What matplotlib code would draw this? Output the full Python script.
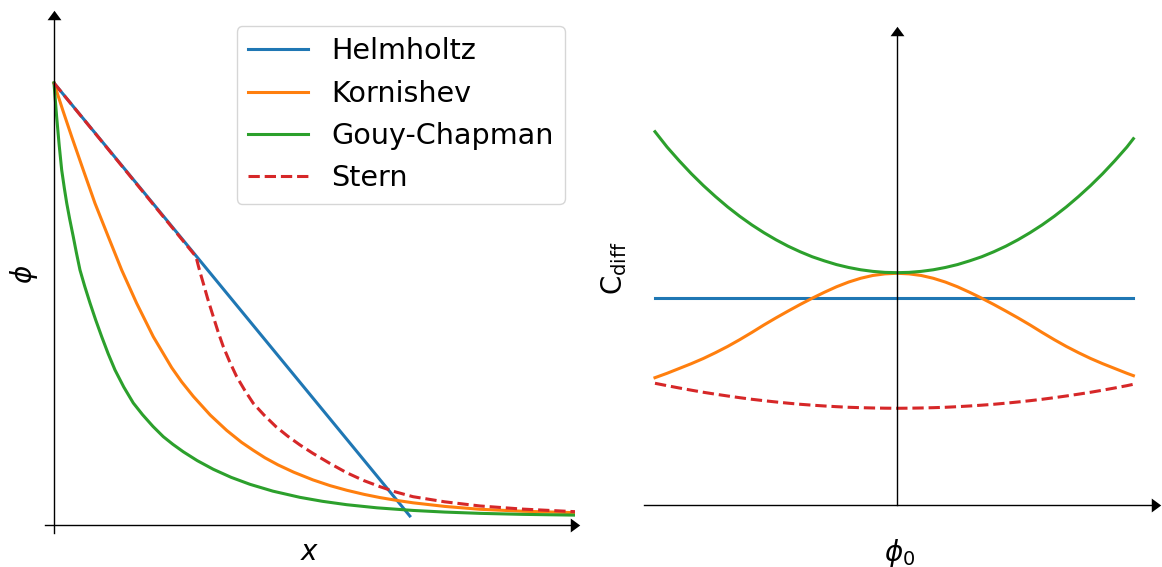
import matplotlib
matplotlib.use("Agg")
import matplotlib.pyplot as plt

# ===== Data =====
# Left panel: potential profile phi(x) away from the electrode
HELM_X = [0.0, 0.683]
HELM_PHI = [1.0, 0.0204]

KORN_X = [0.0, 0.017, 0.034, 0.0562, 0.0787, 0.1042, 0.1299, 0.1587, 0.1906, 0.2259,
          0.245, 0.2674, 0.3, 0.3315, 0.36, 0.3825, 0.405, 0.43, 0.46, 0.4971,
          0.53, 0.5618, 0.595, 0.6257, 0.66, 0.6891, 0.75, 0.8177, 0.9, 1.0]
KORN_PHI = [1.0, 0.938, 0.8785, 0.8032, 0.7278, 0.6523, 0.5769, 0.5016, 0.426, 0.356,
            0.324, 0.291, 0.2486, 0.214, 0.187, 0.169, 0.152, 0.136, 0.1195, 0.102,
            0.089, 0.0786, 0.0693, 0.062, 0.0552, 0.0502, 0.042, 0.0355, 0.0311, 0.0278]

GC_X = [0.0, 0.005, 0.01, 0.0148, 0.02, 0.0244, 0.03, 0.037, 0.043, 0.0499,
        0.059, 0.0691, 0.08, 0.0916, 0.104, 0.1171, 0.134, 0.1522, 0.17, 0.19,
        0.2098, 0.2282, 0.2482, 0.275, 0.3058, 0.34, 0.3762, 0.42, 0.4722, 0.515,
        0.5618, 0.62, 0.6891, 0.75, 0.8177, 0.9, 1.0]
GC_PHI = [1.0, 0.925, 0.859, 0.803, 0.761, 0.7285, 0.693, 0.6523, 0.616, 0.5769,
          0.540, 0.5023, 0.464, 0.426, 0.3875, 0.3507, 0.312, 0.276, 0.2495, 0.223,
          0.1998, 0.1825, 0.1656, 0.1456, 0.126, 0.1078, 0.092, 0.0766, 0.0625, 0.0536,
          0.0459, 0.0388, 0.0329, 0.0292, 0.0263, 0.024, 0.0223]

STERN_X = [0.0, 0.2726, 0.2776, 0.2816, 0.2866, 0.295, 0.3058, 0.315, 0.325, 0.337,
           0.3507, 0.366, 0.3825, 0.403, 0.4261, 0.449, 0.4722, 0.4971, 0.53, 0.5618,
           0.594, 0.6257, 0.655, 0.6891, 0.75, 0.8177, 0.9, 1.0]
STERN_PHI = [1.0, 0.607, 0.584, 0.567, 0.5468, 0.512, 0.4713, 0.437, 0.4034, 0.370,
             0.3355, 0.305, 0.2753, 0.249, 0.2224, 0.2006, 0.181, 0.162, 0.139, 0.1183,
             0.1008, 0.0867, 0.075, 0.064, 0.0524, 0.043, 0.0359, 0.0301]

# Right panel: differential capacitance vs electrode potential
PHI0 = [-1.0, -0.95, -0.9, -0.85, -0.8, -0.75, -0.7, -0.65, -0.6, -0.55,
        -0.5, -0.45, -0.4, -0.35, -0.3, -0.25, -0.2, -0.15, -0.1, -0.05,
        0.0, 0.05, 0.1, 0.15, 0.2, 0.25, 0.3, 0.35, 0.4, 0.45,
        0.5, 0.55, 0.6, 0.65, 0.7, 0.75, 0.8, 0.85, 0.9, 0.95, 0.977]
C_HELM = [2.072] * len(PHI0)
C_KORN = [1.278, 1.322, 1.37, 1.418, 1.47, 1.528, 1.59, 1.658, 1.73, 1.805,
          1.876, 1.944, 2.010, 2.073, 2.132, 2.187, 2.234, 2.272, 2.300, 2.316,
          2.322, 2.316, 2.300, 2.272, 2.234, 2.187, 2.132, 2.073, 2.010, 1.944,
          1.876, 1.805, 1.73, 1.658, 1.59, 1.528, 1.47, 1.418, 1.37, 1.322, 1.298]
C_GC = [3.738, 3.584, 3.447, 3.318, 3.199, 3.089, 2.986, 2.892, 2.806, 2.728,
        2.657, 2.593, 2.537, 2.487, 2.446, 2.409, 2.380, 2.357, 2.341, 2.331,
        2.328, 2.331, 2.341, 2.357, 2.380, 2.409, 2.446, 2.487, 2.537, 2.593,
        2.657, 2.728, 2.806, 2.892, 2.986, 3.089, 3.199, 3.318, 3.447, 3.584, 3.668]
C_STERN = [1.222, 1.198, 1.175, 1.153, 1.132, 1.113, 1.095, 1.078, 1.062, 1.048,
           1.035, 1.023, 1.012, 1.003, 0.995, 0.988, 0.982, 0.978, 0.975, 0.973,
           0.972, 0.973, 0.975, 0.978, 0.982, 0.988, 0.995, 1.003, 1.012, 1.023,
           1.035, 1.048, 1.062, 1.078, 1.095, 1.113, 1.132, 1.153, 1.175, 1.198, 1.212]

LABELS = ["Helmholtz", "Kornishev", "Gouy-Chapman", "Stern"]
COLORS = ["tab:blue", "tab:orange", "tab:green", "tab:red"]

# ===== Style =====
FONT_SIZE = 20
LEGEND_FONT_SIZE = 20.6
LINE_WIDTH = 2.2

# arrow heads for the axes (wider than long)
ARROW_UP = [(-1, -0.68), (1, -0.68), (0, 0.68)]
ARROW_RIGHT = [(-0.68, -1), (-0.68, 1), (0.68, 0)]


def add_arrows(ax, x_axis_y):
    # arrow at the top of the y spine and at the right end of the x spine
    ax.plot(0, 1, marker=ARROW_UP, ms=10, mew=0, color="k",
            transform=ax.get_xaxis_transform(), clip_on=False)
    ax.plot(1, x_axis_y, marker=ARROW_RIGHT, ms=10, mew=0, color="k",
            transform=ax.get_yaxis_transform(), clip_on=False)


def bare_axes(ax, bottom_at_zero):
    ax.spines["left"].set_position(("data", 0))
    if bottom_at_zero:
        ax.spines["bottom"].set_position(("data", 0))
    ax.spines["top"].set_visible(False)
    ax.spines["right"].set_visible(False)
    for side in ("left", "bottom"):
        ax.spines[side].set_linewidth(1.0)
    ax.set_xticks([])
    ax.set_yticks([])


def main():
    plt.rcParams["font.size"] = FONT_SIZE
    fig = plt.figure(figsize=(11.62, 5.67), dpi=100)

    # ---- potential profiles ----
    ax1 = fig.add_axes([0.0387, 0.0600, 0.4561, 0.9127])
    ax1.plot(HELM_X, HELM_PHI, color=COLORS[0], lw=LINE_WIDTH, label=LABELS[0])
    ax1.plot(KORN_X, KORN_PHI, color=COLORS[1], lw=LINE_WIDTH, label=LABELS[1])
    ax1.plot(GC_X, GC_PHI, color=COLORS[2], lw=LINE_WIDTH, label=LABELS[2])
    ax1.plot(STERN_X, STERN_PHI, "--", color=COLORS[3], lw=LINE_WIDTH, label=LABELS[3])
    ax1.set_xlim(-0.0173, 1.0)
    ax1.set_ylim(-0.0181, 1.1527)
    bare_axes(ax1, bottom_at_zero=True)
    add_arrows(ax1, 0)
    ax1.set_xlabel(r"$x$", va="center")
    ax1.xaxis.set_label_coords(0.5, -0.0367)
    ax1.set_ylabel(r"$\phi$", va="center")
    ax1.yaxis.set_label_coords(-0.0396, 0.5)
    ax1.legend(loc="upper right", bbox_to_anchor=(0.9811, 0.9797),
               borderaxespad=0, fontsize=LEGEND_FONT_SIZE, handlelength=2.1)

    # ---- differential capacitance ----
    ax2 = fig.add_axes([0.5542, 0.1085, 0.4406, 0.8360])
    ax2.plot(PHI0, C_HELM, color=COLORS[0], lw=LINE_WIDTH)
    ax2.plot(PHI0, C_KORN, color=COLORS[1], lw=LINE_WIDTH)
    ax2.plot(PHI0, C_GC, color=COLORS[2], lw=LINE_WIDTH)
    ax2.plot(PHI0, C_STERN, "--", color=COLORS[3], lw=LINE_WIDTH)
    ax2.set_xlim(-1.0455, 1.0702)
    ax2.set_ylim(0, 4.74)
    bare_axes(ax2, bottom_at_zero=False)
    add_arrows(ax2, 0)
    ax2.set_xlabel(r"$\phi_0$", va="center")
    ax2.xaxis.set_label_coords(0.5, -0.1002)
    ax2.set_ylabel(r"$\mathrm{C_{diff}}$", va="center")
    ax2.yaxis.set_label_coords(-0.0586, 0.5)

    fig.savefig("out.png", dpi=100)


if __name__ == "__main__":
    main()
